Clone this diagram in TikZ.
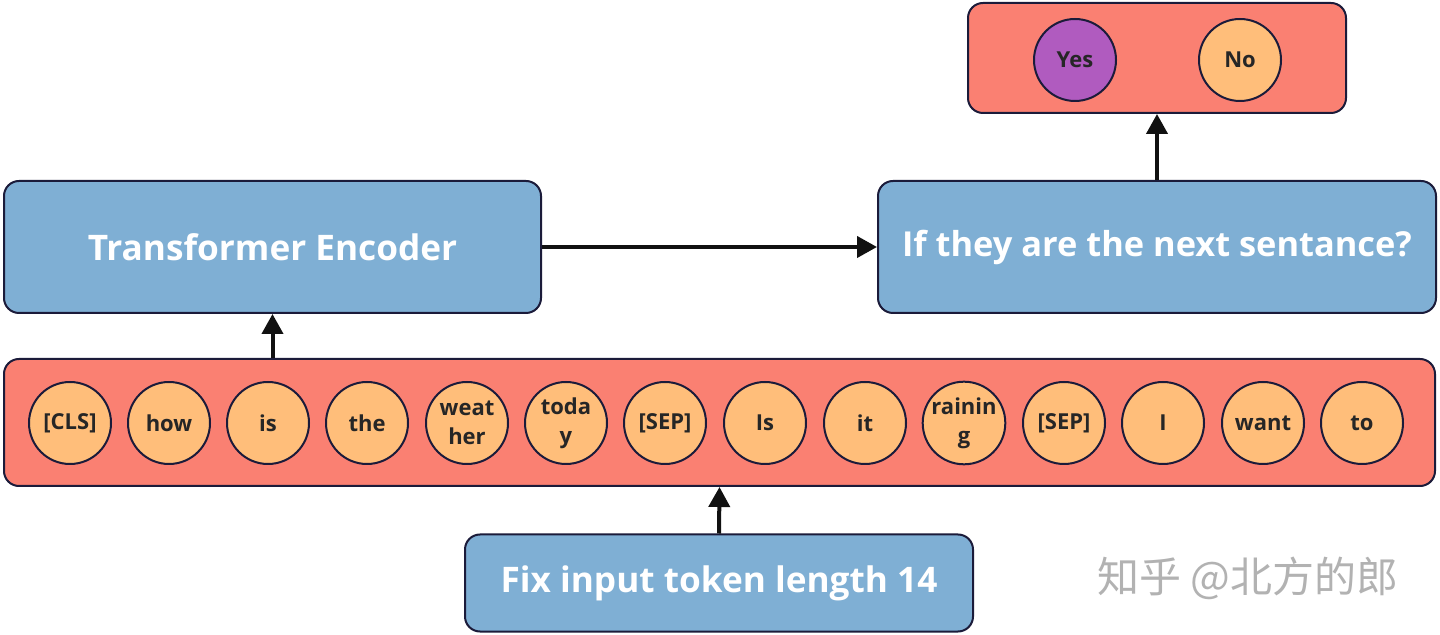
\documentclass[tikz,border=0pt]{standalone}
\usepackage{fontspec}
\setmainfont{Open Sans}
\newfontfamily\cjk{Noto Sans CJK SC}
\usetikzlibrary{arrows.meta,positioning}
\definecolor{boxblue}{HTML}{7FAFD4}
\definecolor{boxred}{HTML}{FA8072}
\definecolor{tokorange}{HTML}{FFBE7A}
\definecolor{tokpurple}{HTML}{B05BBF}
\definecolor{edge}{HTML}{1B1B3A}
\definecolor{arrowc}{HTML}{111111}
\begin{document}
\begin{tikzpicture}[x=0.5pt,y=-0.5pt,
  bluebox/.style={draw=edge,line width=1pt,fill=boxblue,rounded corners=7.5pt,
    text=white,font=\bfseries\fontsize{17.6}{21}\selectfont,inner sep=0pt},
  redbox/.style={draw=edge,line width=1pt,fill=boxred,rounded corners=7.5pt,inner sep=0pt},
  tok/.style={circle,draw=edge,line width=1pt,fill=tokorange,minimum size=41pt,inner sep=0pt,
    align=center,font=\bfseries\fontsize{11}{14.5}\selectfont,text=black!85},
  conn/.style={line width=2pt,draw=arrowc,-{Triangle[length=10pt,width=10.5pt]}}
]
\useasboundingbox[fill=white] (0,0) rectangle (1440,635);
% boxes
\node[redbox,minimum width=189pt,minimum height=55pt] (out) at (1157,58) {};
\node[tok,fill=tokpurple] (yes) at (1075,60) {Yes};
\node[tok] (no) at (1240,60) {No};
\node[bluebox,minimum width=268.5pt,minimum height=66pt] (enc) at (272.5,247) {Transformer Encoder};
\node[bluebox,minimum width=279pt,minimum height=66pt,font=\bfseries\fontsize{17.2}{21}\selectfont] (nsp) at (1157,247) {If they are the next sentance?};
\node[redbox,minimum width=715.5pt,minimum height=63.5pt] (row) at (719.5,422.5) {};
\node[bluebox,minimum width=254pt,minimum height=48.5pt] (fix) at (719,583) {Fix input token length 14};
% tokens
\node[tok] (t1) at (70,423) {[CLS]};
\node[tok] (t2) at (169,423) {how};
\node[tok] (t3) at (268,423) {is};
\node[tok] (t4) at (367,423) {the};
\node[tok] (t5) at (467,423) {weat\\her};
\node[tok] (t6) at (566,423) {toda\\y};
\node[tok] (t7) at (665,423) {[SEP]};
\node[tok] (t8) at (765,423) {Is};
\node[tok] (t9) at (865,423) {it};
\node[tok] (t10) at (964,423) {rainin\\g};
\node[tok] (t11) at (1064,423) {[SEP]};
\node[tok] (t12) at (1163,423) {I};
\node[tok] (t13) at (1263,423) {want};
\node[tok] (t14) at (1362,423) {to};
% connectors
\draw[conn] (fix.north) -- (row.south);
\draw[conn] (row.north -| enc.south) -- (enc.south);
\draw[conn] (enc.east) -- (nsp.west);
\draw[conn] (nsp.north) -- (out.south);
% watermark
\node[text=black!30,font=\cjk\fontsize{21}{24}\selectfont,inner sep=0pt] (wm) at (1248,578) {知乎 @北方的郎};
\end{tikzpicture}
\end{document}
